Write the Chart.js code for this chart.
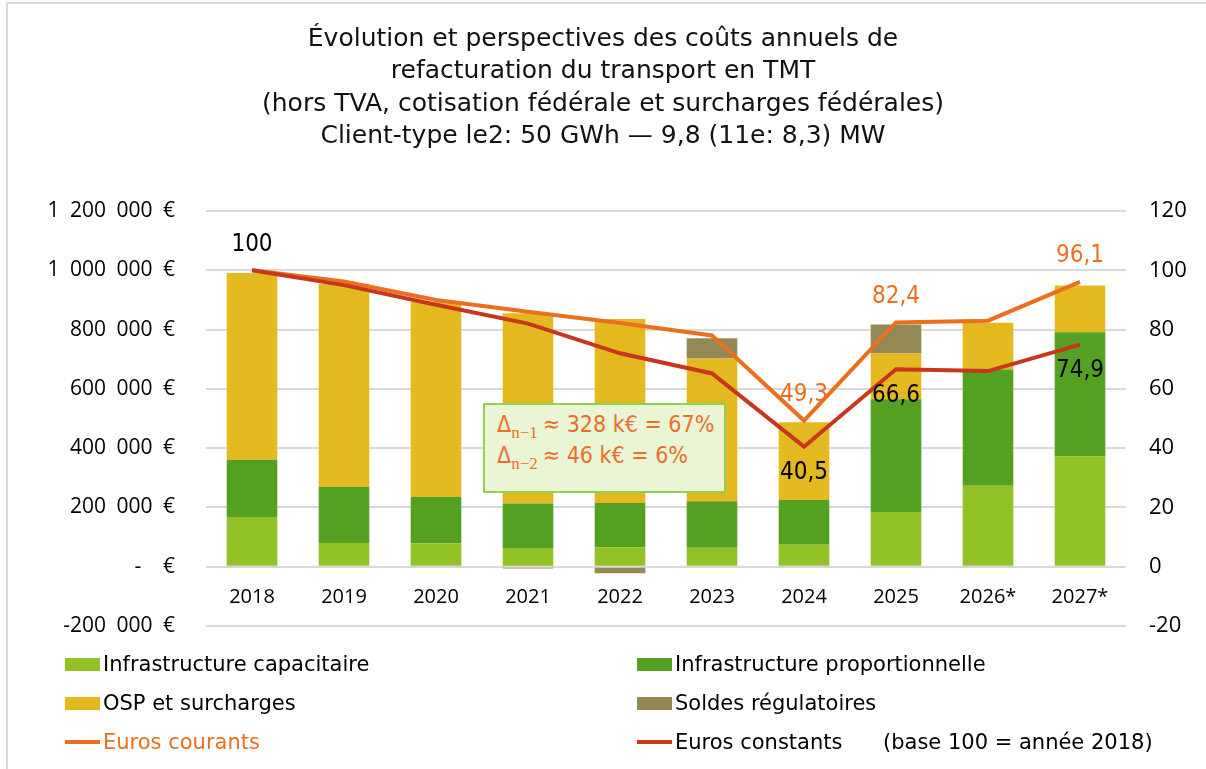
<!DOCTYPE html>
<html lang="fr">
<head>
<meta charset="utf-8">
<script src="https://cdn.jsdelivr.net/npm/chart.js@4.4.1/dist/chart.umd.min.js"></script>
<style>
body { margin: 0; background: #fff; }
#wrap { position: relative; width: 1206px; height: 769px; overflow: hidden; background: #fff; }
#frame { position: absolute; left: 6px; top: 2px; width: 1200px; height: 767px; border-left: 2px solid #d9d9d9; border-top: 2px solid #d9d9d9; }
#chart { position: absolute; left: 0; top: 0; }
#note { position: absolute; left: 483px; top: 403px; width: 243px; height: 90px; background: #eaf5d6; border: 2px solid #92d050;
	font-family: "DejaVu Sans Condensed", "Noto Sans", sans-serif; font-size: 23px; color: #e8702a; line-height: 29px;
	padding: 5px 0 0 12px; box-sizing: border-box; white-space: nowrap; }
#note sub { font-family: "Liberation Serif", "DejaVu Serif", serif; font-size: 17px; vertical-align: baseline; position: relative; top: 6px; margin-right: 5px; }
.leg { position: absolute; height: 30px; display: flex; align-items: center; font-family: "DejaVu Sans", sans-serif; font-size: 21px; color: #000; white-space: nowrap; }
.leg .mk { width: 35px; margin-right: 3px; }
</style>
</head>
<body>
<div id="wrap">
	<div id="frame"></div>
	<canvas id="chart" width="1206" height="769"></canvas>
	<div id="note">&Delta;<sub>n&minus;1</sub>&asymp; 328 k&euro; = 67%<br>&Delta;<sub>n&minus;2</sub>&asymp; 46 k&euro; = 6%</div>
	<div id="legend"></div>
</div>
<script>
const years = ["2018", "2019", "2020", "2021", "2022", "2023", "2024", "2025", "2026*", "2027*"];

const capacitaire = [168000, 80000, 79000, 61000, 66000, 64000, 74000, 185000, 273000, 373000];
const proportionnelle = [193000, 190000, 156000, 152000, 149000, 157000, 151000, 380000, 392000, 418000];
const ospSurcharges = [630000, 685000, 658000, 642000, 621000, 481000, 262000, 154000, 158000, 158000];
const soldes = [0, 0, 0, -6000, -22000, 69000, 0, 98000, 0, 0];

const eurosCourants = [100, 96.2, 90, 86, 82.2, 78, 49.3, 82.4, 83, 96.1];
const eurosConstants = [100, 95, 88.4, 82, 72, 65.2, 40.5, 66.6, 66, 74.9];

const leftTicks = [-200000, 0, 200000, 400000, 600000, 800000, 1000000, 1200000];
const rightTicks = [-20, 0, 20, 40, 60, 80, 100, 120];

const FONT_T = '"DejaVu Sans Condensed", "Noto Sans", sans-serif';
const FONT_A = '"Open Sans", "Liberation Sans", sans-serif';
const ORANGE = "#ea701e";
const RED = "#c8361e";

function euros(v) {
	if (v === 0) return "-    €";
	const s = Math.abs(v).toString().replace(/\B(?=(\d{3})+(?!\d))/g, "\u2002");
	return (v < 0 ? "-" : "") + s + "\u2002€";
}

function fmt(v) {
	return Number.isInteger(v) ? String(v) : v.toFixed(1).replace(".", ",");
}

// value labels on the two lines
const pointLabels = {
	id: "pointLabels",
	afterDatasetsDraw(chart) {
		const ctx = chart.ctx;
		chart.data.datasets.forEach((ds, i) => {
			if (!ds.labels) return;
			const meta = chart.getDatasetMeta(i);
			ctx.save();
			ctx.font = "24px " + FONT_T;
			ctx.fillStyle = ds.labels.color;
			ctx.textAlign = "center";
			ctx.textBaseline = "middle";
			ds.labels.above.forEach(idx => {
				const p = meta.data[idx];
				ctx.fillText(fmt(ds.data[idx]), p.x, p.y - 26);
			});
			ds.labels.below.forEach(idx => {
				const p = meta.data[idx];
				ctx.fillText(fmt(ds.data[idx]), p.x, p.y + 26);
			});
			ctx.restore();
		});
	}
};

const datasets = [
	{ type: "bar", label: "Infrastructure capacitaire", data: capacitaire, backgroundColor: "#92c226", yAxisID: "y", order: 3 },
	{ type: "bar", label: "Infrastructure proportionnelle", data: proportionnelle, backgroundColor: "#53a023", yAxisID: "y", order: 3 },
	{ type: "bar", label: "OSP et surcharges", data: ospSurcharges, backgroundColor: "#e4b920", yAxisID: "y", order: 3 },
	{ type: "bar", label: "Soldes régulatoires", data: soldes, backgroundColor: "#948954", yAxisID: "y", order: 3 },
	{ type: "line", label: "Euros courants", data: eurosCourants, borderColor: ORANGE, backgroundColor: ORANGE, borderWidth: 4,
		pointRadius: 0, tension: 0, yAxisID: "y1", order: 2, labels: { color: ORANGE, above: [6, 7, 9], below: [] } },
	{ type: "line", label: "Euros constants", data: eurosConstants, borderColor: RED, backgroundColor: RED, borderWidth: 4,
		pointRadius: 0, tension: 0, yAxisID: "y1", order: 1, labels: { color: "#000", above: [0], below: [6, 7, 9] } }
];

new Chart(document.getElementById("chart"), {
	data: { labels: years, datasets: datasets },
	plugins: [pointLabels],
	options: {
		responsive: false,
		animation: false,
		layout: { padding: { left: 0, right: 0, top: 0, bottom: 143 } },
		datasets: { bar: { barPercentage: 0.55, categoryPercentage: 1 } },
		plugins: {
			legend: { display: false },
			tooltip: { enabled: false },
			title: {
				display: true,
				text: [
					"Évolution et perspectives des coûts annuels de",
					"refacturation du transport en TMT",
					"(hors TVA, cotisation fédérale et surcharges fédérales)",
					"Client-type le2: 50 GWh — 9,8 (11e: 8,3) MW"
				],
				color: "#111",
				font: { family: '"DejaVu Sans", sans-serif', size: 25, weight: "normal", lineHeight: 1.3 },
				padding: { top: 23, bottom: 58 }
			}
		},
		scales: {
			x: {
				stacked: true,
				position: { y: 0 },
				grid: { display: false },
				border: { display: false },
				ticks: { color: "#000", font: { family: FONT_A, size: 20 }, padding: 11, maxRotation: 0 }
			},
			y: {
				stacked: true,
				position: "left",
				min: -200000,
				max: 1200000,
				afterFit(scale) { scale.width = 206; },
				afterBuildTicks(scale) { scale.ticks = leftTicks.map(v => ({ value: v })); },
				grid: { color: "#d9d9d9", lineWidth: 2, drawTicks: false },
				border: { display: false },
				ticks: { color: "#000", font: { family: FONT_A, size: 21 }, padding: 31, callback: v => euros(v) }
			},
			y1: {
				position: "right",
				min: -20,
				max: 120,
				afterFit(scale) { scale.width = 80; },
				afterBuildTicks(scale) { scale.ticks = rightTicks.map(v => ({ value: v })); },
				grid: { drawOnChartArea: false, drawTicks: false },
				border: { display: false },
				ticks: { color: "#000", font: { family: FONT_A, size: 22 }, padding: 23, crossAlign: "near" }
			}
		}
	}
});

// two-column legend under the plot
const legend = document.getElementById("legend");
datasets.forEach((ds, i) => {
	const item = document.createElement("div");
	item.className = "leg";
	item.style.left = (i % 2 === 0 ? 65 : 637) + "px";
	item.style.top = (649 + Math.floor(i / 2) * 39) + "px";
	const mk = document.createElement("span");
	mk.className = "mk";
	mk.style.height = ds.type === "bar" ? "13px" : "4px";
	mk.style.background = ds.type === "bar" ? ds.backgroundColor : ds.borderColor;
	const tx = document.createElement("span");
	tx.textContent = ds.label;
	if (ds.label === "Euros courants") tx.style.color = ORANGE;
	item.appendChild(mk);
	item.appendChild(tx);
	legend.appendChild(item);
});
const base = document.createElement("div");
base.className = "leg";
base.style.left = "883px";
base.style.top = (649 + 2 * 39) + "px";
base.textContent = "(base 100 = année 2018)";
legend.appendChild(base);
</script>
</body>
</html>
